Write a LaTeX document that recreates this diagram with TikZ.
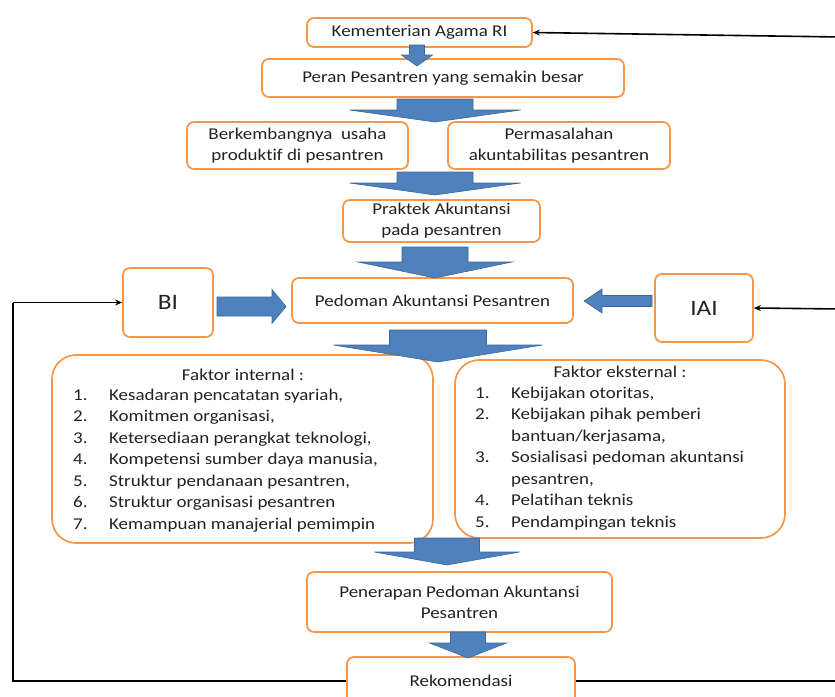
\documentclass[tikz,border=0pt]{standalone}
\usepackage{fontspec}
\setmainfont{Carlito}[FakeStretch=1.15,Ligatures=NoCommon]
\usetikzlibrary{arrows.meta}
\definecolor{boxorange}{HTML}{F79646}
\definecolor{arrowfill}{HTML}{4F81BD}
\definecolor{arrowedge}{HTML}{3C6699}
\definecolor{txt}{HTML}{222222}
\newcommand\vbarrow[6]{\filldraw[fill=arrowfill,draw=arrowedge,line width=0.6pt,line join=miter]
  ({#1-#5},#2) -- ({#1+#5},#2) -- ({#1+#5},#3) -- ({#1+#6},#3) -- (#1,#4) -- ({#1-#6},#3) -- ({#1-#5},#3) -- cycle;}
\newcommand\hbarrow[6]{\filldraw[fill=arrowfill,draw=arrowedge,line width=0.6pt,line join=miter]
  (#2,{#1-#5}) -- (#3,{#1-#5}) -- (#3,{#1-#6}) -- (#4,#1) -- (#3,{#1+#6}) -- (#3,{#1+#5}) -- (#2,{#1+#5}) -- cycle;}
\begin{document}
\begin{tikzpicture}[x=1pt,y=-1pt,
  box/.style={draw=boxorange,line width=1.7pt,rounded corners=7pt,fill=white,align=center,inner sep=0pt,text=txt,font=\fontsize{16.5}{21}\selectfont},
  bigbox/.style={box,rounded corners=24pt},
  lbl/.style={inner sep=0pt,text=txt,font=\fontsize{16.5}{21.5}\selectfont,align=center},
  fb/.style={line width=1.6pt,black,-{Stealth[length=7pt,width=6pt]}}]
\useasboundingbox (0,0) rectangle (835,696);
% boxes
\node[box,minimum width=225pt,minimum height=29pt] (kem) at (419.5,32.5) {Kementerian Agama RI};
\node[box,minimum width=362pt,minimum height=38pt] (peran) at (443,78) {Peran Pesantren yang semakin besar};
\node[box,minimum width=221pt,minimum height=47pt] (berk) at (297.5,145.5) {Berkembangnya\ \ usaha\\produktif di pesantren};
\node[box,minimum width=222pt,minimum height=47pt] (perm) at (559,145.5) {Permasalahan\\akuntabilitas pesantren};
\node[box,minimum width=197pt,minimum height=42pt] (prak) at (441.5,221) {Praktek Akuntansi\\pada pesantren};
\node[box,minimum width=90pt,minimum height=69pt,font=\fontsize{22}{24}\selectfont] (bi) at (168,302.5) {BI};
\node[box,minimum width=281pt,minimum height=45pt] (ped) at (432.5,300.5) {Pedoman Akuntansi Pesantren};
\node[box,minimum width=98pt,minimum height=68pt,font=\fontsize{22}{24}\selectfont] (iai) at (704,308) {IAI};
\node[bigbox,minimum width=381pt,minimum height=188pt] (fint) at (242.5,449) {};
\node[bigbox,minimum width=330pt,minimum height=178pt] (feks) at (620,449) {};
\node[box,minimum width=305pt,minimum height=60pt] (pen) at (459.5,602) {Penerapan Pedoman Akuntansi\\Pesantren};
\node[box,minimum width=228pt,minimum height=48pt] (rek) at (461,681) {Rekomendasi};
% list texts
\node[lbl] (finth) at (243,375) {Faktor internal :};
\node[lbl,anchor=base west] (fintl) at (73,400) {\begin{tabular}[t]{@{}p{36pt}@{}l@{}}
1. & Kesadaran pencatatan syariah,\\
2. & Komitmen organisasi,\\
3. & Ketersediaan perangkat teknologi,\\
4. & Kompetensi sumber daya manusia,\\
5. & Struktur pendanaan pesantren,\\
6. & Struktur organisasi pesantren\\
7. & Kemampuan manajerial pemimpin
\end{tabular}};
\node[lbl] (fekh) at (620,372) {Faktor eksternal :};
\node[lbl,anchor=base west] (fekl) at (475,398) {\begin{tabular}[t]{@{}p{36pt}@{}l@{}}
1. & Kebijakan otoritas,\\
2. & Kebijakan pihak pemberi\\
   & bantuan/kerjasama,\\
3. & Sosialisasi pedoman akuntansi\\
   & pesantren,\\
4. & Pelatihan teknis\\
5. & Pendampingan teknis
\end{tabular}};
% blue block arrows
\vbarrow{417}{45}{55}{66}{7.5}{15.5}
\vbarrow{435}{99}{110}{122}{38}{85.5}
\vbarrow{435}{172}{183}{195}{38}{85.5}
\vbarrow{435}{247}{262}{278}{33}{77}
\vbarrow{438}{330}{345}{362}{48.5}{104.5}
\vbarrow{447}{538}{552}{565}{32.5}{72.5}
\vbarrow{468}{632}{643}{658}{17.5}{38.5}
\hbarrow{306.5}{217}{272}{286}{9.5}{17}
\hbarrow{301}{652}{602}{584}{5.5}{12}
% feedback lines
\coordinate (lb) at (13,681);
\coordinate (lt) at (13,302.5);
\coordinate (rb) at (840,681);
\coordinate (rm) at (840,309);
\coordinate (rt) at (840,37);
\draw[line width=1.6pt,black] (rek.west) -- (lb) -- (lt);
\draw[fb] (lt) -- (bi.west);
\draw[line width=1.6pt,black] (rek.east) -- (rb) -- (rt);
\draw[fb] (rm) -- (iai.east);
\draw[fb] (rt) -- (kem.east);
\end{tikzpicture}
\end{document}
